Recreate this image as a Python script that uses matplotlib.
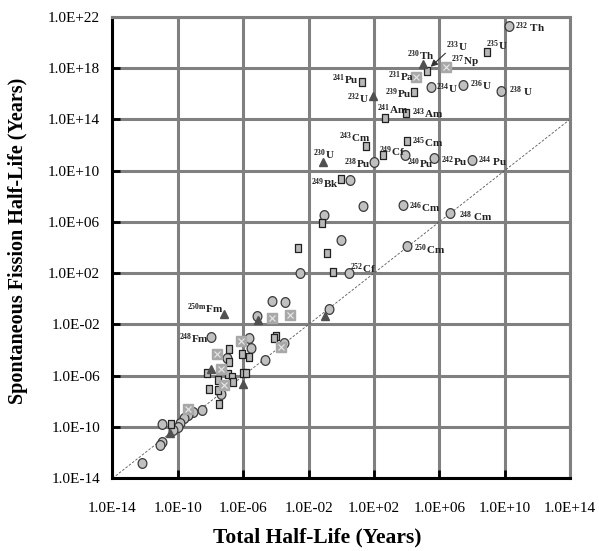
import numpy as np
import matplotlib
matplotlib.use('Agg')
import matplotlib.pyplot as plt
from matplotlib.path import Path

# log10 of (total half-life, spontaneous fission half-life), years
circle_x = [10.25, 5.5, 7.48, 9.75, 2.0, 3.9, 5.7, 8.03, 0.52, 1.32, 3.78, 6.68,
            -1.08, -0.03, 4.03, 0.46, -2.52, -4.25, -3.45, -5.17, -0.74, -8.0,
            -5.66, -5.53, -3.5, -4.68, -7.0, -7.33, -8.5, -9.1, -9.35, -9.6,
            -9.85, -10.0, -10.28, -10.95, -11.0, -11.1, -12.2]
circle_y = [21.3, 16.5, 16.7, 16.2, 10.7, 11.2, 11.0, 10.8, 9.3, 7.27, 7.35, 6.7,
            6.57, 4.6, 4.15, 2.05, 2.0, -0.18, -0.25, -1.35, -0.8, -3.0,
            -3.07, -3.85, -3.45, -4.8, -4.6, -7.4, -8.7, -8.8, -9.1, -9.3,
            -9.7, -10.0, -10.25, -9.8, -11.2, -11.4, -12.8]

rect_x = [8.95, 5.26, 1.26, 4.46, 2.68, 3.97, 1.5, 4.0, 2.55, -0.03, -1.2, -2.65,
          -0.9, -0.52, -4.0, -4.1, -6.1, -5.66, -6.9, -6.9, -8.2, -7.57, -6.95,
          -6.7, -6.6, -8.1, -7.57, -7.5, -6.03, -5.85, -10.4]
rect_y = [19.27, 17.8, 16.9, 16.1, 14.1, 14.5, 11.9, 12.3, 11.2, 9.37, 5.95, 4.0,
          3.6, 2.1, -2.9, -3.05, -4.3, -4.55, -3.95, -4.9, -5.8, -6.35, -5.9,
          -6.1, -6.45, -7.0, -7.1, -8.2, -5.8, -5.8, -9.75]

xsq_x = [6.43, 4.58, -4.25, -3.14, -6.15, -3.7, -7.63, -7.33, -7.2, -9.4]
xsq_y = [18.1, 17.3, -1.5, -1.27, -3.3, -3.75, -4.3, -5.5, -6.7, -8.6]

tri_x = [5.0, 1.94, -1.14, -7.2, -5.1, -0.98, -8.0, -6.03, -10.5]
tri_y = [18.3, 15.8, 10.7, -1.2, -1.66, -1.35, -5.5, -6.65, -10.45]

# nuclide labels: (mass, element, log x, log y of label start)
labels = [
    ('232', ' Th', 10.65, 21.12), ('235', 'U', 8.86, 19.71), ('233', 'U', 6.40, 19.64),
    ('230', 'Th', 4.0, 19.0), ('237', 'Np', 6.71, 18.5), ('231', 'Pa', 2.89, 17.3),
    ('241', 'Pu', -0.55, 17.06), ('232', 'U', 0.37, 15.58), ('239', 'Pu', 2.65, 15.97),
    ('234', 'U', 5.79, 16.36), ('236', 'U', 7.88, 16.6), ('238', ' U', 10.28, 16.13),
    ('241', 'Am', 2.21, 14.72), ('243', 'Am', 4.31, 14.41), ('243', 'Cm', -0.12, 12.54),
    ('245', 'Cm', 4.31, 12.15), ('249', 'Cf', 2.34, 11.45), ('230', 'U', -1.72, 11.21),
    ('238', 'Pu', 0.18, 10.51), ('240', 'Pu', 4.0, 10.51), ('242', 'Pu', 6.09, 10.67),
    ('244', ' Pu', 8.37, 10.67), ('249', 'Bk', -1.85, 9.0), ('246', 'Cm', 4.12, 7.14),
    ('248', ' Cm', 7.2, 6.37), ('250', 'Cm', 4.43, 3.87), ('252', 'Cf', 0.55, 2.32),
    ('250m', 'Fm', -9.42, -0.8), ('248', 'Fm', -9.91, -3.14),
]

plt.rcParams['font.family'] = 'Liberation Serif'
plt.rcParams['mathtext.fontset'] = 'custom'
plt.rcParams['mathtext.rm'] = 'Liberation Serif:bold'
plt.rcParams['mathtext.it'] = 'Liberation Serif:bold'
plt.rcParams['mathtext.bf'] = 'Liberation Serif:bold'

fig = plt.figure(figsize=(5.99, 5.51), dpi=100)
ax = fig.add_axes([0.1878, 0.1319, 0.7638, 0.8377])
ax.set_xscale('log')
ax.set_yscale('log')
ax.set_xlim(1e-14, 1e14)
ax.set_ylim(1e-14, 1e22)

ticks_x = [10.0 ** e for e in range(-14, 15, 4)]
ticks_y = [10.0 ** e for e in range(-14, 23, 4)]
ax.set_xticks(ticks_x)
ax.set_yticks(ticks_y)
ax.set_xticklabels(['1.0E%+03d' % e for e in range(-14, 15, 4)], fontsize=11)
ax.set_yticklabels(['1.0E%+03d' % e for e in range(-14, 23, 4)], fontsize=11)
ax.minorticks_off()
ax.tick_params(direction='in', length=6, width=2)
ax.tick_params(axis='x', pad=17)
ax.tick_params(axis='y', pad=9)
ax.grid(True, color='#808080', linewidth=2.2, zorder=0)
ax.set_axisbelow(True)
for s in ['left', 'bottom']:
    ax.spines[s].set_linewidth(2.2)
    ax.spines[s].set_color('black')
for s in ['top', 'right']:
    ax.spines[s].set_linewidth(2.2)
    ax.spines[s].set_color('#808080')

# y = x reference line
ax.plot([1e-14, 1e14], [1e-14, 1e14], color='#555555', linestyle=(0, (3, 2)),
        linewidth=0.6, zorder=1)

def pw(a):
    return 10.0 ** np.array(a)

t = np.linspace(0, 2 * np.pi, 40)
ellipse = Path(np.column_stack([0.45 * np.cos(t), 0.5 * np.sin(t)]), closed=True)
rect = Path([(-0.3, -0.5), (0.3, -0.5), (0.3, 0.5), (-0.3, 0.5), (-0.3, -0.5)], closed=True)

ax.plot(pw(circle_x), pw(circle_y), linestyle='none', marker=ellipse, markersize=7,
        markerfacecolor='#c0c0c0', markeredgecolor='#3a3a3a', markeredgewidth=0.9, zorder=3)
ax.plot(pw(rect_x), pw(rect_y), linestyle='none', marker=rect, markersize=6.3,
        markerfacecolor='#b8b8b8', markeredgecolor='#202020', markeredgewidth=0.9, zorder=3)
ax.plot(pw(xsq_x), pw(xsq_y), linestyle='none', marker='s', markersize=6.5,
        markerfacecolor='#a8a8a8', markeredgecolor='#a8a8a8', zorder=4)
ax.plot(pw(xsq_x), pw(xsq_y), linestyle='none', marker='x', markersize=4.5,
        markeredgecolor='#e8e8e8', markeredgewidth=0.8, zorder=5)
ax.plot(pw(tri_x), pw(tri_y), linestyle='none', marker='^', markersize=5.5,
        markerfacecolor='#505050', markeredgecolor='#505050', zorder=4)

for mass, elem, lx, ly in labels:
    ax.text(10.0 ** lx, 10.0 ** ly, r'$^{%s}$%s' % (mass, elem), fontsize=8,
            fontweight='bold', ha='left', va='center', color='#222222', zorder=6)

# arrow from the 233U label to its marker
ax.annotate('', xy=(10.0 ** 5.35, 10.0 ** 17.95), xytext=(10.0 ** 6.5, 10.0 ** 19.3),
            arrowprops=dict(arrowstyle='-|>', color='#333333', lw=0.8, mutation_scale=10),
            zorder=6)

fig.text(0.529, 0.0254, 'Total Half-Life (Years)', fontsize=15.5, fontweight='bold',
         ha='center', va='center')
fig.text(0.030, 0.5626, 'Spontaneous Fission Half-Life (Years)', fontsize=14.5,
         fontweight='bold', rotation=90, ha='center', va='center')

fig.savefig('out.png', dpi=100)
